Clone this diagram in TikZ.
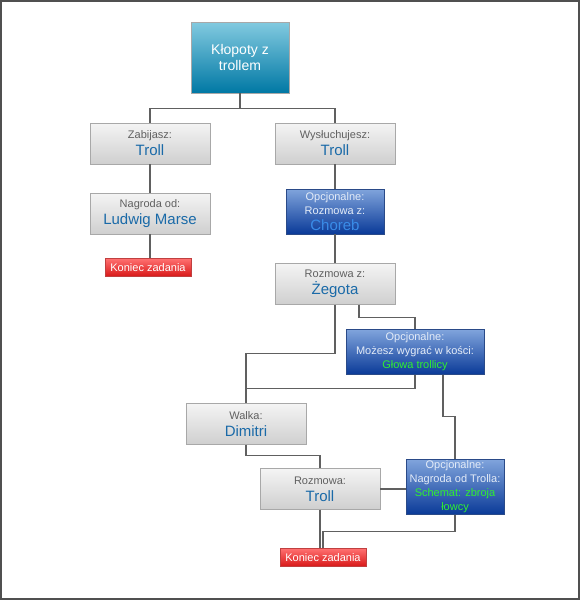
\documentclass[tikz,border=0pt]{standalone}
\usepackage{fontspec}
\setmainfont{Liberation Sans}

\definecolor{frame}{HTML}{505050}
\definecolor{wire}{HTML}{606060}
\definecolor{labelgrey}{HTML}{606060}
\definecolor{nameblue}{HTML}{1A6AA8}
\definecolor{greyedge}{HTML}{A8A8A8}
\definecolor{greytop}{HTML}{F4F4F4}
\definecolor{greybot}{HTML}{CFCFCF}
\definecolor{tealtop}{HTML}{82CAE0}
\definecolor{tealbot}{HTML}{0078A4}
\definecolor{bluetop}{HTML}{80A4DC}
\definecolor{bluebot}{HTML}{0A3A98}
\definecolor{blueedge}{HTML}{2A4A88}
\definecolor{redtop}{HTML}{FF7070}
\definecolor{redbot}{HTML}{D81818}
\definecolor{redge}{HTML}{C04040}
\definecolor{optwhite}{HTML}{E4ECF8}
\definecolor{chorebblue}{HTML}{3A8CE8}
\definecolor{lootgreen}{HTML}{30F030}

\newcommand{\who}[1]{{\fontsize{15}{17}\selectfont\color{nameblue}#1}}
\newcommand{\loot}[1]{{\color{lootgreen}#1}}

\tikzset{
    greybox/.style={draw=greyedge, top color=greytop, bottom color=greybot,
        minimum width=120pt, minimum height=41pt, inner sep=0pt, align=center,
        text=labelgrey, font=\fontsize{11}{17}\selectfont},
    bluebox/.style={draw=blueedge, top color=bluetop, bottom color=bluebot,
        minimum height=45pt, inner sep=0pt, align=center,
        text=optwhite, font=\fontsize{11}{14}\selectfont},
    titlebox/.style={draw=greyedge, top color=tealtop, bottom color=tealbot,
        minimum width=98pt, minimum height=71pt, inner sep=0pt, align=center,
        text=white, font=\fontsize{14}{16}\selectfont},
    endbox/.style={draw=redge, top color=redtop, bottom color=redbot,
        minimum width=86pt, minimum height=18pt, inner sep=0pt,
        text=white, font=\fontsize{11}{13}\selectfont},
    wire/.style={draw=wire, line width=1.3pt}
}

\begin{document}
\begin{tikzpicture}[x=1pt, y=-1pt]
    \useasboundingbox (0,0) rectangle (580,600);
    \draw[frame, line width=2pt] (1,1) rectangle (579,599);

    % quest start and the two choices
    \node[titlebox] (start) at (240,57.5) {K\l{}opoty z\\trollem};
    \node[greybox] (kill) at (150,143.5) {Zabijasz:\\\who{Troll}};
    \node[greybox] (listen) at (335,143.5) {Wys\l{}uchujesz:\\\who{Troll}};

    % left branch
    \node[greybox] (reward) at (150,213.5) {Nagroda od:\\\who{Ludwig Marse}};
    \node[endbox] (endA) at (148,267.5) {Koniec zadania};

    % right branch
    \node[bluebox, minimum width=98pt] (choreb) at (335,211.5)
        {Opcjonalne:\\Rozmowa z:\\[2pt]{\fontsize{15}{17}\selectfont\color{chorebblue}Choreb}};
    \node[greybox] (zegota) at (335,284) {Rozmowa z:\\\who{Żegota}};
    \node[bluebox, minimum width=138pt] (dice) at (415,352)
        {Opcjonalne:\\Możesz wygrać w kości:\\\loot{Głowa trollicy}};
    \node[greybox] (fight) at (246,424) {Walka:\\\who{Dimitri}};
    \node[greybox] (talk) at (320,489) {Rozmowa:\\\who{Troll}};
    \node[bluebox, minimum width=98pt, minimum height=55pt] (armour) at (455,487)
        {Opcjonalne:\\Nagroda od Trolla:\\\loot{Schemat: zbroja}\\\loot{łowcy}};
    \node[endbox] (endB) at (323,557.5) {Koniec zadania};

    % connectors
    \draw[wire] (start.south) -- ++(0,15) -| (kill.north);
    \draw[wire] (start.south) -- ++(0,15) -| (listen.north);
    \draw[wire] (kill) -- (reward);
    \draw[wire] (reward.south) -- (reward.south |- endA.north);
    \draw[wire] (listen) -- (choreb);
    \draw[wire] (choreb) -- (zegota);
    \draw[wire] ([xshift=24pt]zegota.south) -- ++(0,13) -| (dice.north);
    \draw[wire] (zegota.south) -- ++(0,49) -| (fight.north);
    \coordinate (join) at ([yshift=15pt]fight.north);
    \draw[wire] (dice.south) -- (dice.south |- join) -- (join);
    \draw[wire] ([xshift=28pt]dice.south) -- ++(0,42) -| (armour.north);
    \draw[wire] (fight.south) -- ++(0,11) -| (talk.north);
    \draw[wire] (talk.east) -- (armour.west |- talk.east);
    \draw[wire] (talk.south) -- (talk.south |- endB.north);
    \draw[wire] (armour.south) -- ++(0,17) -| (endB.north);
\end{tikzpicture}
\end{document}
